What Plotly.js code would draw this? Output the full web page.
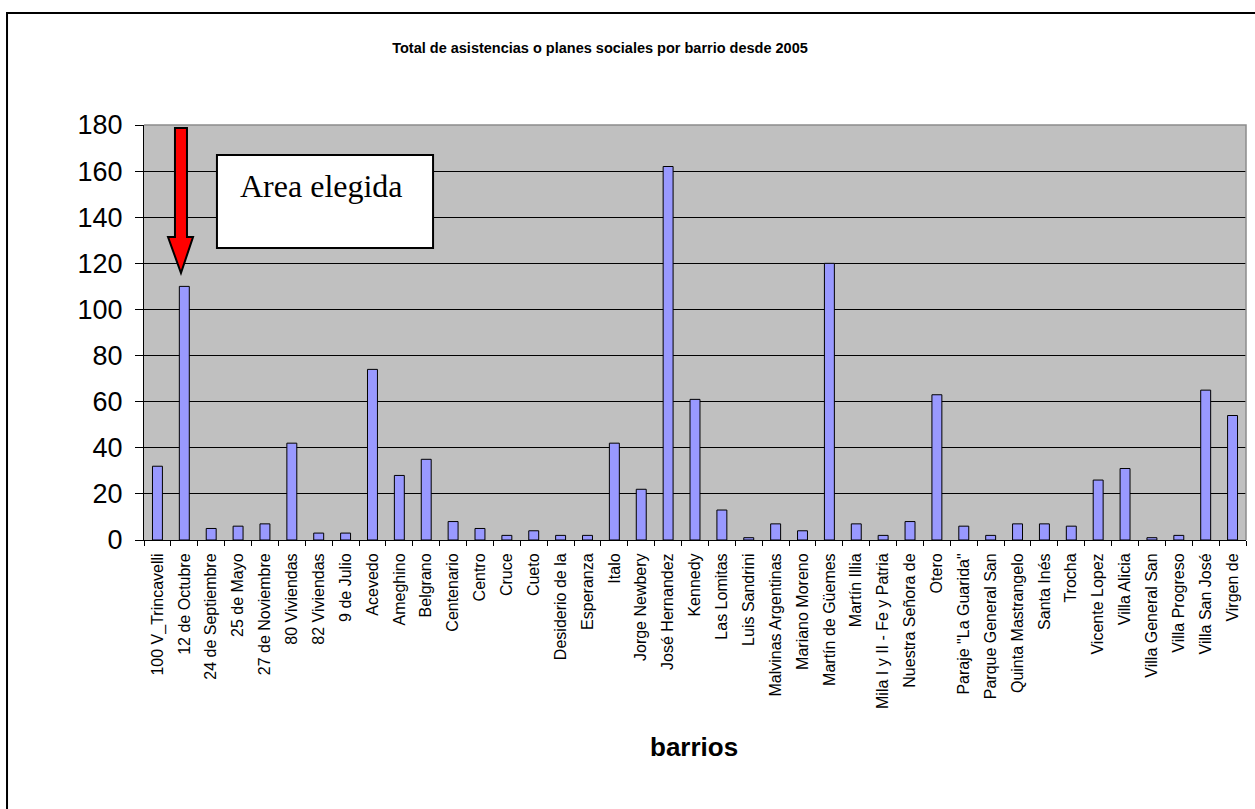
<!DOCTYPE html>
<html>
<head>
<meta charset="utf-8">
<script src="https://cdn.plot.ly/plotly-3.0.1.min.js"></script>
<style>html,body{margin:0;padding:0;background:#fff;}#chart{width:1255px;height:809px;}</style>
</head>
<body>
<div id="chart"></div>
<script>
const barrios = [
  "100 V_Trincavelli", "12 de Octubre", "24 de Septiembre", "25 de Mayo", "27 de Noviembre",
  "80 Viviendas", "82 Viviendas", "9 de Julio", "Acevedo", "Ameghino",
  "Belgrano", "Centenario", "Centro", "Cruce", "Cueto",
  "Desiderio de la", "Esperanza", "Italo", "Jorge Newbery", "José Hernandez",
  "Kennedy", "Las Lomitas", "Luis Sandrini", "Malvinas Argentinas", "Mariano Moreno",
  "Martín de Güemes", "Martín Illia", "Mila I y II - Fe y Patria", "Nuestra Señora de", "Otero",
  "Paraje \"La Guarida\"", "Parque General San", "Quinta Mastrangelo", "Santa Inés", "Trocha",
  "Vicente Lopez", "Villa Alicia", "Villa General San", "Villa Progreso", "Villa San José",
  "Virgen de"
];
const asistencias = [
  32, 110, 5, 6, 7,
  42, 3, 3, 74, 28,
  35, 8, 5, 2, 4,
  2, 2, 42, 22, 162,
  61, 13, 1, 7, 4,
  120, 7, 2, 8, 63,
  6, 2, 7, 7, 6,
  26, 31, 1, 2, 65,
  54
];
const yTicks = [0, 20, 40, 60, 80, 100, 120, 140, 160, 180];
const chartTitle = "Total de asistencias o planes sociales por barrio desde 2005";
const xTitle = "barrios";
const boxText = "Area elegida";

const trace = {
  type: "bar",
  x: barrios,
  y: asistencias,
  marker: {color: "#9999FF", line: {color: "#000000", width: 1}},
  hoverinfo: "x+y"
};

const layout = {
  width: 1255, height: 809,
  margin: {l: 144, r: 9, t: 125, b: 269, pad: 0},
  paper_bgcolor: "#FFFFFF",
  plot_bgcolor: "#C0C0C0",
  bargap: 0.63,
  showlegend: false,
  font: {family: "Liberation Sans, Arial, sans-serif", color: "#000"},
  title: {
    text: "<b>" + chartTitle + "</b>",
    font: {size: 14.5, family: "Liberation Sans, Arial, sans-serif", color: "#000"},
    xref: "container", yref: "container",
    x: 600/1255, xanchor: "center",
    y: 1 - 48/809, yanchor: "middle"
  },
  xaxis: {
    type: "category",
    range: [-0.5, barrios.length - 0.5],
    tickangle: -90,
    tickfont: {size: 16, family: "Liberation Sans, Arial, sans-serif", color: "#000"},
    ticks: "outside", ticklen: 5, tickcolor: "#000", tickwidth: 1,
    ticklabelstandoff: 6,
    tickson: "boundaries",
    showline: true, linecolor: "#000", linewidth: 1,
    showgrid: false, zeroline: false,
    automargin: false
  },
  yaxis: {
    range: [0, 180],
    tickvals: yTicks,
    ticktext: yTicks.map(String),
    tickfont: {size: 27, family: "Liberation Sans, Arial, sans-serif", color: "#000"},
    ticks: "outside", ticklen: 8, tickcolor: "#000", tickwidth: 1,
    ticklabelstandoff: 7,
    showline: true, linecolor: "#000", linewidth: 1,
    showgrid: true, gridcolor: "#000", gridwidth: 1,
    zeroline: false,
    automargin: false
  },
  shapes: [
    {type: "path", xref: "paper", yref: "paper", layer: "above",
     path: "M 0,1 L 1,1 L 1,0", line: {color: "#8C8C8C", width: 1.5}},
    {type: "path", xref: "paper", yref: "paper", layer: "above",
     path: "M -0.1243,-0.75 L -0.1243,1.2699 L 1.03,1.2699", line: {color: "#000", width: 2}},
    {type: "rect", xref: "paper", yref: "paper", layer: "above",
     x0: 0.0662, x1: 0.2623, y0: 0.7036, y1: 0.9277,
     fillcolor: "#FFFFFF", line: {color: "#000", width: 2}},
    {type: "path", xref: "paper", yref: "paper", layer: "above",
     path: "M 0.0281,0.9928 L 0.0390,0.9928 L 0.0390,0.7301 L 0.0445,0.7301 L 0.03355,0.6434 L 0.0218,0.7301 L 0.0281,0.7301 Z",
     fillcolor: "#FF0000", line: {color: "#000", width: 2}}
  ],
  annotations: [
    {xref: "paper", yref: "paper", x: 0.0853, y: 0.853, xanchor: "left", yanchor: "middle",
     text: boxText, showarrow: false,
     font: {family: "Liberation Serif, Times New Roman, serif", size: 32, color: "#000"}},
    {xref: "paper", yref: "paper", x: (694-144)/1102, y: (540-747)/415, xanchor: "center", yanchor: "middle",
     text: "<b>" + xTitle + "</b>", showarrow: false,
     font: {family: "Liberation Sans, Arial, sans-serif", size: 26, color: "#000"}}
  ]
};

Plotly.newPlot("chart", [trace], layout, {displayModeBar: false, staticPlot: true});
</script>
</body>
</html>
